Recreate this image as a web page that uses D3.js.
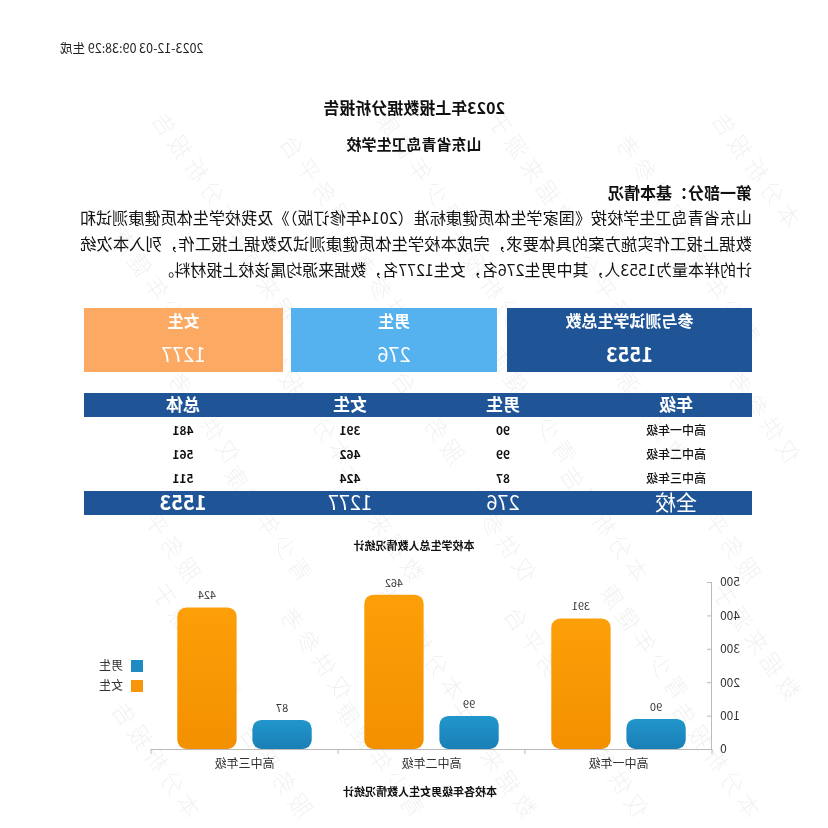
<!DOCTYPE html>
<html>
    <head>
        <meta charset="utf-8">
        <script src="https://cdn.jsdelivr.net/npm/d3@7/dist/d3.min.js"></script>
        <style>
            body { margin: 0; background: #fff; }
            svg { display: block; transform: scaleX(-1); }
            text { font-family: "Noto Sans CJK SC", "Noto Sans", sans-serif; }
        </style>
    </head>
    <body>
        <svg width="828" height="828"></svg>
        <script>

        // data
        var generated = "2023-12-03 09:38:29 生成";
        var titles = ["2023年上报数据分析报告", "山东省青岛卫生学校"];
        var sectionTitle = "第一部分：基本情况";
        var paragraph = [
            "山东省青岛卫生学校按《国家学生体质健康标准（2014年修订版）》及我校学生体质健康测试和",
            "数据上报工作实施方案的具体要求，完成本校学生体质健康测试及数据上报工作，列入本次统",
            "计的样本量为1553人，其中男生276名，女生1277名，数据来源均属该校上报材料。"
        ];
        var summaryLabels = ["参与测试学生总数", "男生", "女生"];
        var summaryValues = [1553, 276, 1277];
        var tableHeader = ["年级", "男生", "女生", "总体"];
        var grades = ["高中一年级", "高中二年级", "高中三年级"];
        var boys = [90, 99, 87];
        var girls = [391, 462, 424];
        var series = ["男生", "女生"];
        var yTicks = [0, 100, 200, 300, 400, 500];
        var watermarkWords = ["本分析报告", "仅供参考", "数据来源于", "青少年健康", "服务平台"];

        var svg = d3.select("svg");
        var left = 76, right = 744;

        // watermark, kept inside the page
        var wm = svg.append("g").attr("fill", "#000").attr("opacity", 0.055);
        for (var r = 0; r < 6; r++) {
          for (var c = 0; c < 7; c++) {
            var wx = 40 + c * 112 + (r % 2) * 40;
            var wy = 230 + r * 118;
            if (wx > 690) continue;
            wm.append("text")
                .attr("transform", "translate(" + wx + "," + wy + ") rotate(-55)")
                .attr("font-size", 23).attr("font-weight", 300).attr("letter-spacing", 5)
                .text(watermarkWords[(r * 3 + c) % watermarkWords.length]);
          }
        }

        svg.append("text").attr("x", 768).attr("y", 49).attr("dy", "0.35em")
            .attr("text-anchor", "end").attr("font-size", 12.5).attr("fill", "#222")
            .text(generated);

        svg.selectAll(".title").data(titles).enter().append("text")
            .attr("class", "title")
            .attr("x", 414).attr("y", function(d, i) { return 108 + i * 37; })
            .attr("dy", "0.35em").attr("text-anchor", "middle")
            .attr("font-size", function(d, i) { return i == 0 ? 16 : 15; })
            .attr("font-weight", "bold").attr("fill", "#111")
            .text(function(d) { return d; });

        svg.append("text").attr("x", left).attr("y", 193).attr("dy", "0.35em")
            .attr("font-size", 16).attr("font-weight", "bold").attr("fill", "#111")
            .text(sectionTitle);

        svg.selectAll(".para").data(paragraph).enter().append("text")
            .attr("class", "para")
            .attr("x", left).attr("y", function(d, i) { return 218 + i * 26; })
            .attr("dy", "0.35em").attr("font-size", 16).attr("fill", "#111")
            .each(function(d, i) {
              if (i < paragraph.length - 1) {
                d3.select(this).attr("textLength", 672).attr("lengthAdjust", "spacingAndGlyphs");
              }
            })
            .text(function(d) { return d; });

        // summary boxes
        var boxX = [76, 331, 545], boxW = [245, 206, 199];
        var boxColors = ["#1f5596", "#56b1ef", "#fba963"];
        var boxes = svg.selectAll(".box").data(summaryValues).enter().append("g").attr("class", "box");
        boxes.append("rect")
            .attr("x", function(d, i) { return boxX[i]; }).attr("y", 308)
            .attr("width", function(d, i) { return boxW[i]; }).attr("height", 64)
            .attr("fill", function(d, i) { return boxColors[i]; });
        boxes.append("text")
            .attr("x", function(d, i) { return boxX[i] + boxW[i] / 2; }).attr("y", 321)
            .attr("dy", "0.35em").attr("text-anchor", "middle")
            .attr("font-size", 16).attr("font-weight", "bold").attr("fill", "#fff")
            .text(function(d, i) { return summaryLabels[i]; });
        boxes.append("text")
            .attr("x", function(d, i) { return boxX[i] + boxW[i] / 2; }).attr("y", 355)
            .attr("dy", "0.35em").attr("text-anchor", "middle")
            .attr("font-size", 20).attr("font-weight", function(d, i) { return i == 0 ? "bold" : "normal"; })
            .attr("fill", "#fff")
            .text(function(d) { return d; });

        // table
        var colX = [152, 325, 478, 645];
        svg.append("rect").attr("x", left).attr("y", 393).attr("width", right - left).attr("height", 24).attr("fill", "#1f5596");
        svg.append("rect").attr("x", left).attr("y", 491).attr("width", right - left).attr("height", 24).attr("fill", "#1f5596");
        svg.selectAll(".th").data(tableHeader).enter().append("text")
            .attr("x", function(d, i) { return colX[i]; }).attr("y", 405).attr("dy", "0.35em")
            .attr("text-anchor", "middle").attr("font-size", 17).attr("font-weight", "bold").attr("fill", "#fff")
            .text(function(d) { return d; });
        grades.forEach(function(g, i) {
          var row = [g, boys[i], girls[i], boys[i] + girls[i]];
          svg.selectAll(".tr" + i).data(row).enter().append("text")
              .attr("x", function(d, j) { return colX[j]; }).attr("y", 431 + i * 24).attr("dy", "0.35em")
              .attr("text-anchor", "middle").attr("font-size", 12)
              .attr("font-weight", function(d, j) { return j == 0 ? 500 : "bold"; })
              .attr("fill", "#111")
              .text(function(d) { return d; });
        });
        var totals = ["全校", d3.sum(boys), d3.sum(girls), d3.sum(boys) + d3.sum(girls)];
        svg.selectAll(".tf").data(totals).enter().append("text")
            .attr("x", function(d, i) { return colX[i]; }).attr("y", 503).attr("dy", "0.35em")
            .attr("text-anchor", "middle").attr("font-size", function(d, i) { return i == 0 ? 21 : 20; })
            .attr("fill", "#fff")
            .attr("font-weight", function(d, i) { return i == 3 ? "bold" : "normal"; })
            .text(function(d) { return d; });

        svg.append("text").attr("x", 414).attr("y", 546).attr("dy", "0.35em")
            .attr("text-anchor", "middle").attr("font-size", 11).attr("font-weight", "bold").attr("fill", "#111")
            .text("本校学生总人数情况统计");

        // bar chart
        var x0 = d3.scaleBand().domain(grades).range([116, 677]);
        var x1 = d3.scaleBand().domain(series).range([0, x0.bandwidth()]).paddingInner(0.21).paddingOuter(0.35);
        var y = d3.scaleLinear().domain([0, 500]).range([749, 582]);

        var defs = svg.append("defs");
        var grads = [["gBoy", "#2196cc", "#1a7fb6"], ["gGirl", "#fd9f08", "#f39000"]];
        grads.forEach(function(g) {
          var lg = defs.append("linearGradient").attr("id", g[0]).attr("x1", 0).attr("x2", 0).attr("y1", 0).attr("y2", 1);
          lg.append("stop").attr("offset", "0%").attr("stop-color", g[1]);
          lg.append("stop").attr("offset", "100%").attr("stop-color", g[2]);
        });
        var colors = {"男生": "#1e8bc3", "女生": "#f7960a"};

        var yAxis = svg.append("g").attr("transform", "translate(116,0)")
            .call(d3.axisLeft(y).tickValues(yTicks).tickSize(-5).tickPadding(8));
        yAxis.select(".domain").attr("stroke", "#bbb");
        yAxis.selectAll(".tick line").attr("stroke", "#bbb");
        yAxis.selectAll("text").attr("font-size", 12).attr("fill", "#333");

        var xAxis = svg.append("g").attr("transform", "translate(0,749)")
            .call(d3.axisBottom(x0).tickSize(0).tickPadding(10));
        xAxis.select(".domain").attr("stroke", "#bbb");
        xAxis.selectAll("text").attr("font-size", 12).attr("fill", "#333");
        svg.selectAll(".xt").data(grades.concat(["end"])).enter().append("line")
            .attr("x1", function(d, i) { return i < grades.length ? x0(d) : x0.range()[1]; })
            .attr("x2", function(d, i) { return i < grades.length ? x0(d) : x0.range()[1]; })
            .attr("y1", 749).attr("y2", 754).attr("stroke", "#bbb");

        var groups = svg.selectAll(".grade").data(grades).enter().append("g")
            .attr("transform", function(d) { return "translate(" + x0(d) + ",0)"; });
        var bars = groups.selectAll(".bar")
            .data(function(d, i) { return [{s: "男生", v: boys[i]}, {s: "女生", v: girls[i]}]; })
            .enter();
        bars.append("rect")
            .attr("x", function(d) { return x1(d.s); })
            .attr("y", function(d) { return y(d.v); })
            .attr("width", x1.bandwidth())
            .attr("height", function(d) { return y(0) - y(d.v); })
            .attr("rx", 9)
            .attr("fill", function(d) { return d.s == "男生" ? "url(#gBoy)" : "url(#gGirl)"; });
        bars.append("text")
            .attr("x", function(d) { return x1(d.s) + x1.bandwidth() / 2; })
            .attr("y", function(d) { return y(d.v) - 8; })
            .attr("text-anchor", "middle").attr("font-size", 11).attr("fill", "#333")
            .text(function(d) { return d.v; });

        var legend = svg.selectAll(".legend").data(series).enter().append("g")
            .attr("transform", function(d, i) { return "translate(685," + (660 + i * 20) + ")"; });
        legend.append("rect").attr("width", 12).attr("height", 12).attr("fill", function(d) { return colors[d]; });
        legend.append("text").attr("x", 20).attr("y", 6).attr("dy", "0.35em")
            .attr("font-size", 12).attr("fill", "#333").text(function(d) { return d; });

        svg.append("text").attr("x", 408).attr("y", 792).attr("dy", "0.35em")
            .attr("text-anchor", "middle").attr("font-size", 11).attr("font-weight", "bold").attr("fill", "#111")
            .text("本校各年级男女生人数情况统计");

        </script>
    </body>
</html>
